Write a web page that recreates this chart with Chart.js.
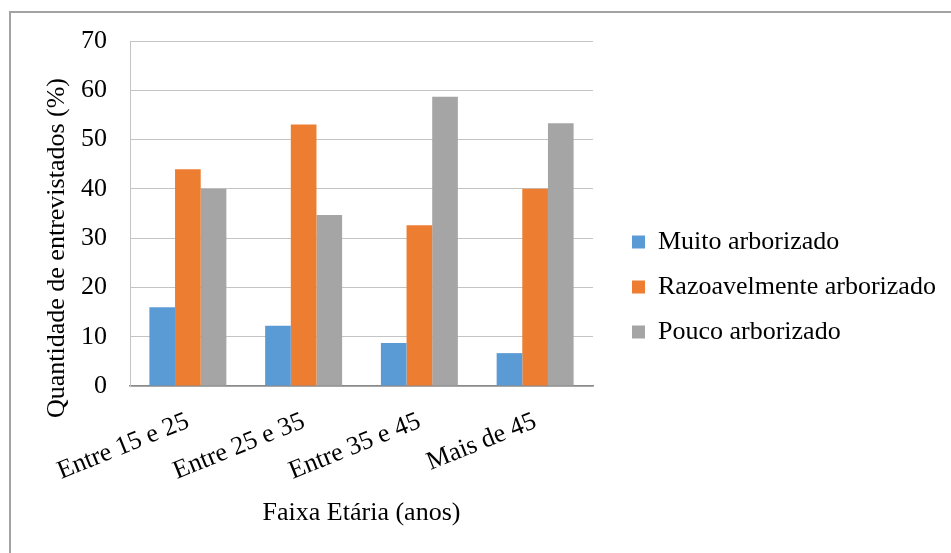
<!DOCTYPE html>
<html lang="pt">
<head>
<meta charset="utf-8">
<title>Percepção da arborização por faixa etária</title>
<script src="https://cdn.jsdelivr.net/npm/chart.js@4/dist/chart.umd.min.js"></script>
<style>
  html, body { margin: 0; padding: 0; background: #fff; overflow: hidden; }
  #frame {
    position: absolute; left: 9px; top: 11px; width: 1000px; height: 600px;
    border-left: 2px solid #a3a3a3; border-top: 2px solid #a3a3a3;
    box-sizing: border-box;
  }
  #wrap { position: absolute; left: 0; top: 0; width: 951px; height: 553px; }
</style>
</head>
<body>
<div id="frame"></div>
<div id="wrap"><canvas id="chart" width="951" height="553"></canvas></div>
<script>
// Faixas etárias (eixo das categorias)
const categories = ['Entre 15 e 25', 'Entre 25 e 35', 'Entre 35 e 45', 'Mais de 45'];

// Percentual de entrevistados por percepção de arborização
const muitoArborizado = [16.00, 12.24, 8.70, 6.67];
const razoavelmenteArborizado = [44.00, 53.06, 32.61, 40.00];
const poucoArborizado = [40.00, 34.69, 58.70, 53.33];

const seriesNames = ['Muito arborizado', 'Razoavelmente arborizado', 'Pouco arborizado'];
const yTicks = [0, 10, 20, 30, 40, 50, 60, 70];

const yTitle = 'Quantidade de entrevistados (%)';
const xTitle = 'Faixa Etária (anos)';

const SERIF = '"Liberation Serif", "Times New Roman", serif';
const LEGEND_WIDTH = 337;

// Título do eixo vertical, desenhado à esquerda do eixo
const yTitlePlugin = {
  id: 'yTitle',
  afterDraw(chart) {
    const ctx = chart.ctx;
    ctx.save();
    ctx.translate(57, 248);
    ctx.rotate(-Math.PI / 2);
    ctx.font = '26px ' + SERIF;
    ctx.fillStyle = '#000';
    ctx.textAlign = 'center';
    ctx.textBaseline = 'middle';
    ctx.fillText(yTitle, 0, 0);
    ctx.restore();
  }
};

// A legenda lateral ocupa a largura inteira dos rótulos
const wideLegendPlugin = {
  id: 'wideLegend',
  beforeLayout(chart) {
    const lg = chart.legend;
    if (lg && !lg.__wide) {
      const fit = lg.fit;
      lg.fit = function () {
        fit.call(this);
        if (!this.isHorizontal()) this.width = LEGEND_WIDTH;
      };
      lg.__wide = true;
    }
  }
};

new Chart(document.getElementById('chart'), {
  type: 'bar',
  data: {
    labels: categories,
    datasets: [
      { label: seriesNames[0], data: muitoArborizado, backgroundColor: '#5B9BD5' },
      { label: seriesNames[1], data: razoavelmenteArborizado, backgroundColor: '#ED7D31' },
      { label: seriesNames[2], data: poucoArborizado, backgroundColor: '#A5A5A5' }
    ]
  },
  options: {
    responsive: false,
    animation: false,
    devicePixelRatio: 1,
    layout: { padding: { left: 58, top: 41, right: 1, bottom: 20 } },
    datasets: { bar: { categoryPercentage: 0.665, barPercentage: 1.0 } },
    plugins: {
      tooltip: { enabled: false },
      legend: {
        position: 'right',
        align: 'center',
        labels: {
          boxWidth: 13,
          boxHeight: 13,
          padding: 19,
          color: '#000',
          font: { family: SERIF, size: 26 }
        }
      }
    },
    scales: {
      x: {
        grid: { display: false, drawTicks: false },
        border: { display: true, color: '#898989', width: 1.5 },
        ticks: {
          color: '#000',
          font: { family: SERIF, size: 26 },
          minRotation: 22,
          maxRotation: 22,
          padding: 20,
          autoSkip: false
        },
        title: {
          display: true,
          text: xTitle,
          color: '#000',
          font: { family: SERIF, size: 26 },
          padding: { top: 0, bottom: 4 }
        },
        afterFit(scale) {
          scale.height = 147;
          scale.paddingLeft = 0;
          scale.paddingRight = 0;
        }
      },
      y: {
        min: 0,
        max: 70,
        afterBuildTicks(scale) { scale.ticks = yTicks.map(v => ({ value: v })); },
        grid: { color: '#c4c4c4', lineWidth: 1, drawTicks: false },
        border: { display: true, color: '#c4c4c4', width: 1 },
        ticks: {
          color: '#000',
          font: { family: SERIF, size: 26 },
          padding: 23
        }
      },
      gap: {
        type: 'linear',
        position: 'right',
        display: true,
        grid: { display: false, drawTicks: false },
        border: { display: false },
        ticks: { display: false },
        afterFit(scale) { scale.width = 20; }
      }
    }
  },
  plugins: [yTitlePlugin, wideLegendPlugin]
});
</script>
</body>
</html>
